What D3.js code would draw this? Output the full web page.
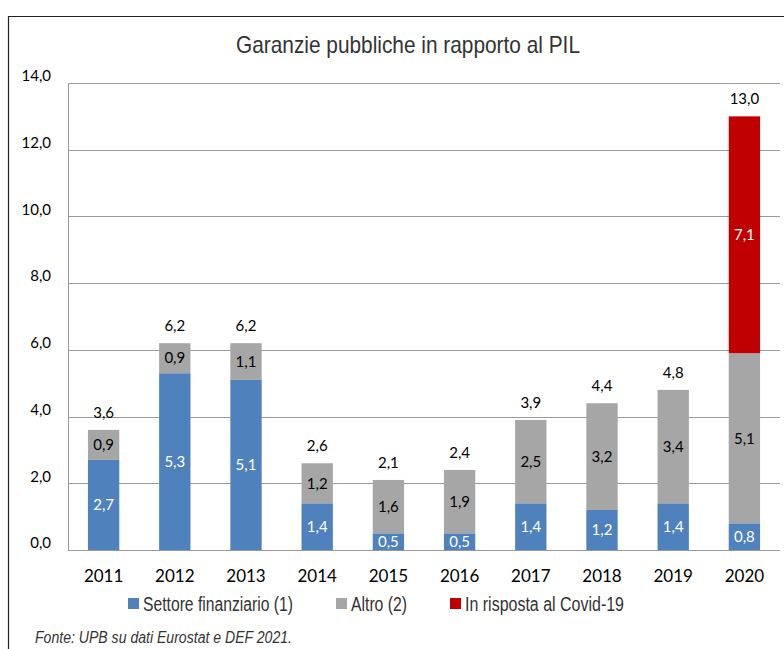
<!DOCTYPE html>
<html>
<head>
<meta charset="utf-8">
<script src="https://cdn.jsdelivr.net/npm/d3@7"></script>
<style>
body { margin: 0; background: #fff; }
svg { display: block; }
</style>
</head>
<body>
<div id="chart"></div>
<script>
var years = ['2011', '2012', '2013', '2014', '2015', '2016', '2017', '2018', '2019', '2020'];
var settoreFinanziario = [2.7, 5.3, 5.1, 1.4, 0.5, 0.5, 1.4, 1.2, 1.4, 0.8];
var altro = [0.9, 0.9, 1.1, 1.2, 1.6, 1.9, 2.5, 3.2, 3.4, 5.1];
var covid = [0, 0, 0, 0, 0, 0, 0, 0, 0, 7.1];
var totali = [3.6, 6.2, 6.2, 2.6, 2.1, 2.4, 3.9, 4.4, 4.8, 13.0];
var yTicks = [0, 2, 4, 6, 8, 10, 12, 14];
var seriesNames = ['Settore finanziario (1)', 'Altro (2)', 'In risposta al Covid-19'];
var seriesColors = ['#4F81BD', '#A6A6A6', '#C00000'];
var labelColors = ['#fff', '#000', '#fff'];

var W = 784, H = 649;
var numFont = 'Lato, "Open Sans", sans-serif';
var narrowFont = '"Liberation Sans Narrow", "Liberation Sans", sans-serif';

var svg = d3.select('#chart').append('svg').attr('width', W).attr('height', H);

// frame
svg.append('line').attr('x1', 8.5).attr('x2', 8.5).attr('y1', 16).attr('y2', H)
	.attr('stroke', '#222').attr('stroke-width', 1.2);
svg.append('line').attr('x1', 8).attr('x2', W).attr('y1', 16.5).attr('y2', 16.5)
	.attr('stroke', '#222').attr('stroke-width', 1.2);

// narrow look: fixed text lengths, since no condensed face is around
svg.append('text').attr('x', 236).attr('y', 53)
	.attr('textLength', 344).attr('lengthAdjust', 'spacingAndGlyphs')
	.style('font-family', narrowFont).style('font-size', '24px').attr('fill', '#333')
	.text('Garanzie pubbliche in rapporto al PIL');

var x = d3.scaleBand().domain(years).range([68, 780]).paddingInner(0.56).paddingOuter(0.28);
var y = d3.scaleLinear().domain([0, 14]).range([550, 83]);

// gridlines
svg.append('g').selectAll('line').data(yTicks).join('line')
	.attr('x1', 68).attr('x2', 780)
	.attr('y1', function (d) { return Math.round(y(d)) + 0.5; })
	.attr('y2', function (d) { return Math.round(y(d)) + 0.5; })
	.attr('stroke', '#999').attr('stroke-width', 1);

svg.append('line').attr('x1', 68.5).attr('x2', 68.5).attr('y1', y(14)).attr('y2', y(0))
	.attr('stroke', '#999');

// y axis labels
var yAxis = d3.axisLeft(y).tickValues(yTicks).tickSize(0).tickPadding(0)
	.tickFormat(function (d) { return d3.format('.1f')(d).replace('.', ','); });
var yg = svg.append('g').attr('transform', 'translate(51,0)').call(yAxis);
yg.select('.domain').remove();
yg.selectAll('text').style('font-family', numFont).style('font-size', '15px').attr('fill', '#000')
	.attr('dy', '-0.15em');

// x axis labels
var xAxis = d3.axisBottom(x).tickSize(0).tickPadding(0);
var xg = svg.append('g').attr('transform', 'translate(0,570)').call(xAxis);
xg.select('.domain').remove();
xg.selectAll('text').style('font-family', numFont).style('font-size', '17px').attr('fill', '#000');

// stacked bars
var rows = years.map(function (yr, i) {
	return { year: yr, s0: settoreFinanziario[i], s1: altro[i], s2: covid[i] };
});
var stack = d3.stack().keys(['s0', 's1', 's2']);
var layers = stack(rows);

var fmt = function (v) { return d3.format('.1f')(v).replace('.', ','); };

layers.forEach(function (layer, k) {
	var g = svg.append('g');
	var segs = layer.filter(function (d) { return d[1] - d[0] > 0; });
	g.selectAll('rect').data(segs).join('rect')
		.attr('x', function (d) { return x(d.data.year); })
		.attr('width', x.bandwidth())
		.attr('y', function (d) { return y(d[1]); })
		.attr('height', function (d) { return y(d[0]) - y(d[1]); })
		.attr('fill', seriesColors[k]);
	g.selectAll('text').data(segs).join('text')
		.attr('x', function (d) { return x(d.data.year) + x.bandwidth() / 2; })
		.attr('y', function (d) { return (y(d[0]) + y(d[1])) / 2; })
		.attr('dy', '0.35em')
		.attr('text-anchor', 'middle')
		.style('font-family', numFont).style('font-size', '15px')
		.attr('fill', labelColors[k])
		.text(function (d) { return fmt(d[1] - d[0]); });
});

// totals
svg.append('g').selectAll('text').data(years).join('text')
	.attr('x', function (d) { return x(d) + x.bandwidth() / 2; })
	.attr('y', function (d, i) { return y(totali[i]) - 12; })
	.attr('text-anchor', 'middle')
	.style('font-family', numFont).style('font-size', '15px').attr('fill', '#000')
	.text(function (d, i) { return fmt(totali[i]); });

// legend
var legendX = [128, 336, 450];
var legendLen = [150, 56, 159];
var lg = svg.append('g');
seriesNames.forEach(function (name, k) {
	lg.append('rect').attr('x', legendX[k]).attr('y', 598).attr('width', 11).attr('height', 11)
		.attr('fill', seriesColors[k]);
	lg.append('text').attr('x', legendX[k] + 15).attr('y', 611)
		.attr('textLength', legendLen[k]).attr('lengthAdjust', 'spacingAndGlyphs')
		.style('font-family', narrowFont).style('font-size', '20px').attr('fill', '#333')
		.text(name);
});

svg.append('text').attr('x', 35).attr('y', 643)
	.attr('textLength', 257).attr('lengthAdjust', 'spacingAndGlyphs')
	.style('font-family', narrowFont).style('font-size', '16px').style('font-style', 'italic')
	.attr('fill', '#333')
	.text('Fonte: UPB su dati Eurostat e DEF 2021.');
</script>
</body>
</html>
